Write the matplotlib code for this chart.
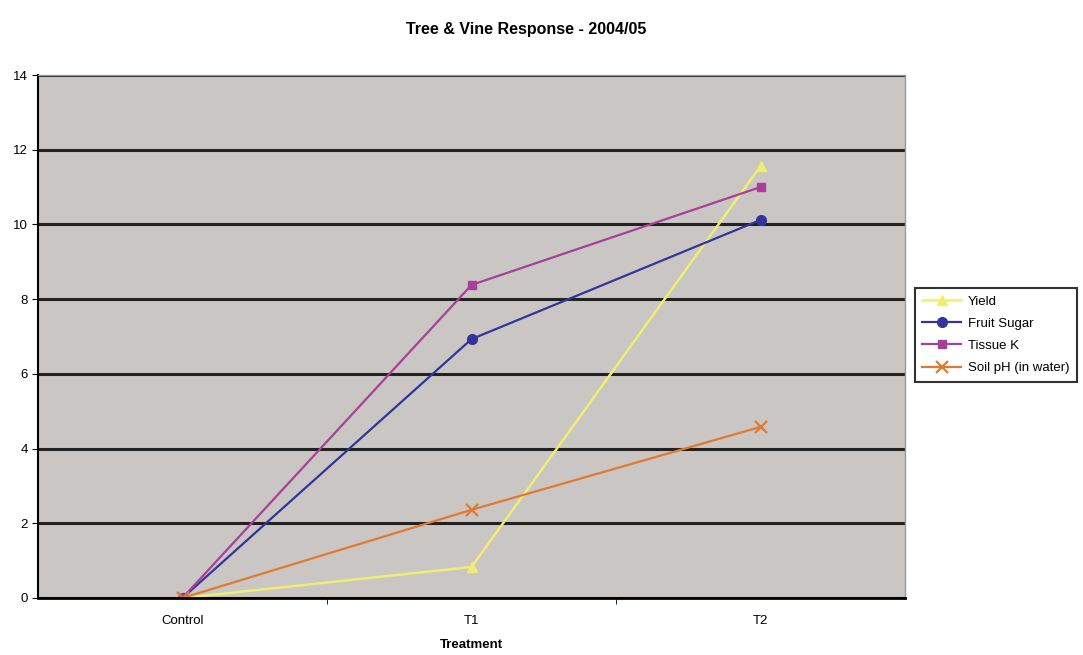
import matplotlib.pyplot as plt
import numpy as np

plt.rcParams["font.family"] = ["Liberation Sans", "DejaVu Sans"]

# Data
treatments = ["Control", "T1", "T2"]
yield_vals = [0, 0.83, 11.56]
fruit_sugar = [0, 6.93, 10.12]
tissue_k = [0, 8.38, 11.0]
soil_ph = [0, 2.36, 4.58]

x = np.arange(len(treatments))

fig = plt.figure(figsize=(10.83, 6.55), dpi=100)
ax = fig.add_axes([38 / 1083, 1 - 598 / 655, 867 / 1083, 523 / 655])
ax.set_facecolor("#c9c6c3")

ax.plot(x, yield_vals, color="#eeee70", marker="^", markersize=7, linewidth=1.8, label="Yield")
ax.plot(x, fruit_sugar, color="#34349a", marker="o", markersize=7, linewidth=1.6, label="Fruit Sugar")
ax.plot(x, tissue_k, color="#a8409a", marker="s", markersize=6, linewidth=1.6, label="Tissue K")
ax.plot(x, soil_ph, color="#e07a30", marker="x", markersize=8, markeredgewidth=1.6,
        linewidth=1.6, label="Soil pH (in water)")

ax.set_xlim(-0.5, 2.5)
ax.set_ylim(0, 14)
ax.set_yticks(np.arange(0, 15, 2))
ax.yaxis.grid(True, color="#222222", linewidth=2.2)
ax.set_axisbelow(True)

ax.set_xticks(x)
ax.set_xticklabels(treatments, fontsize=9.5)
ax.set_xticks([0.5, 1.5], minor=True)
ax.tick_params(axis="x", which="major", length=0, pad=12)
ax.tick_params(axis="x", which="minor", length=4, direction="out")
ax.tick_params(axis="y", labelsize=9.5, length=4, direction="out")

for s in ["top", "right"]:
    ax.spines[s].set_color("#9a9a9a")
    ax.spines[s].set_linewidth(1)
ax.spines["left"].set_linewidth(1.5)
ax.spines["bottom"].set_linewidth(2)

ax.set_xlabel("Treatment", fontsize=9.5, fontweight="bold", labelpad=9)
fig.text(0.486, 0.955, "Tree & Vine Response - 2004/05", ha="center", va="center",
         fontsize=11.5, fontweight="bold")

leg = ax.legend(loc="center left", bbox_to_anchor=(1.011, 0.503), fontsize=9.5, frameon=True,
                fancybox=False, edgecolor="black", borderpad=0.55, labelspacing=0.75,
                handlelength=3.0, handletextpad=0.5, borderaxespad=0)
leg.get_frame().set_linewidth(1.5)

fig.savefig("out.png", dpi=100)
